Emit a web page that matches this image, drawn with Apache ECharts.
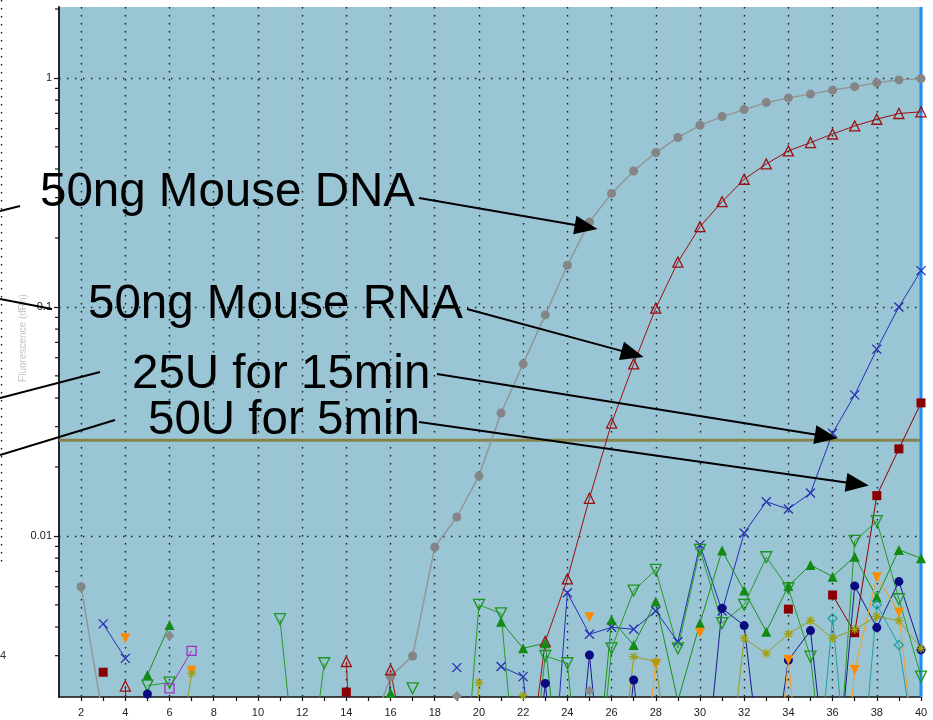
<!DOCTYPE html>
<html>
<head>
<meta charset="utf-8">
<title>Amplification plot</title>
<script src="https://cdn.jsdelivr.net/npm/echarts@6/dist/echarts.min.js"></script>
<style>
html, body { margin: 0; padding: 0; background: #fff; }
#chart { width: 933px; height: 720px; }
</style>
</head>
<body>
<div id="chart"></div>
<script>
const _ = null;

// cycle numbers on the x axis
const cycles = [2, 3, 4, 5, 6, 7, 8, 9, 10, 11, 12, 13, 14, 15, 16, 17, 18, 19, 20, 21,
  22, 23, 24, 25, 26, 27, 28, 29, 30, 31, 32, 33, 34, 35, 36, 37, 38, 39, 40];
const xTickLabels = [2, 4, 6, 8, 10, 12, 14, 16, 18, 20, 22, 24, 26, 28, 30, 32, 34, 36, 38, 40];
const yTickLabels = [0.01, 0.1, 1];
const yMinorTicks = [0.003, 0.004, 0.005, 0.006, 0.007, 0.008, 0.009,
  0.02, 0.03, 0.04, 0.05, 0.06, 0.07, 0.08, 0.09,
  0.2, 0.3, 0.4, 0.5, 0.6, 0.7, 0.8, 0.9, 2];
const threshold = 0.0262;
const lastCycle = 40;

// fluorescence per cycle, cycles 2..40 (null = no reading plotted)
const mouseDNA = [0.0060, 0.0016, 0.0015, 0.0015, 0.0014, 0.0014, 0.0014, 0.0014, 0.0014, 0.0014,
  0.0014, 0.0013, 0.0013, 0.0013, 0.00243, 0.00299, 0.00893, 0.0121, 0.0183, 0.0344,
  0.0564, 0.0923, 0.152, 0.235, 0.313, 0.392, 0.472, 0.549, 0.621, 0.678,
  0.727, 0.780, 0.818, 0.850, 0.885, 0.916, 0.952, 0.980, 0.993];
const mouseRNA = [_, _, 0.00221, 0.00001, _, _, _, _, _, _,
  _, _, 0.00283, 0.00002, 0.0026, 0.00078, _, _, _, _,
  0.0006, 0.00346, 0.00649, 0.0146, 0.0311, 0.0564, 0.0987, 0.157, 0.224, 0.288,
  0.361, 0.421, 0.480, 0.522, 0.569, 0.617, 0.660, 0.699, 0.711];
const u25min15 = [_, 0.00413, 0.00292, _, _, _, _, _, _, _,
  _, _, _, _, _, _, _, 0.00266, _, 0.00269,
  0.00243, 0.0003, 0.00565, 0.00372, 0.00399, 0.00391, 0.00470, 0.00345, 0.00914, 0.0047,
  0.0103, 0.0141, 0.0131, 0.0154, 0.0281, 0.0413, 0.0654, 0.100, 0.144];
const u50min5 = [_, 0.00254, _, _, _, _, _, _, _, _,
  _, _, 0.00208, _, _, _, _, _, _, _,
  _, _, _, _, _, _, _, _, _, _,
  _, _, 0.00479, _, 0.00552, 0.00378, 0.0150, 0.0240, 0.0381];
const greenSolid = [_, _, _, 0.00247, 0.00408, _, _, _, _, _,
  _, _, _, _, 0.00206, _, _, _, _, 0.00422,
  0.00323, 0.00340, 0.0004, 0.0004, 0.00430, 0.00334, 0.00517, 0.0019, 0.00416, 0.00863,
  0.00577, 0.00382, 0.00605, 0.00747, 0.00664, 0.00812, 0.00540, 0.00869, 0.00799];
const greenOpen = [_, _, _, 0.00222, 0.00229, _, _, _, _, 0.00433,
  0.0005, 0.00278, _, _, _, 0.00216, _, 0.0003, 0.00500, 0.00459,
  0.0004, 0.00299, 0.00278, 0.0003, 0.00323, 0.00577, 0.00711, 0.00323, 0.00869, 0.00416,
  0.00500, 0.00807, 0.00591, 0.00297, 0.0004, 0.00951, 0.0116, 0.00529, 0.00243];
const navyDots = [_, _, _, 0.00204, 0.0008, _, _, _, _, _,
  _, _, _, _, _, _, _, _, _, _,
  0.0003, 0.00227, 0.0003, 0.00302, 0.0003, 0.00235, 0.0003, _, 0.0005, 0.00483,
  0.00406, 0.0006, 0.00287, 0.00386, 0.0005, 0.00605, 0.00398, 0.00632, 0.00318];
const orangeDown = [_, _, 0.00357, _, _, 0.00258, _, _, _, _,
  _, _, _, _, _, _, _, _, _, _,
  _, _, _, 0.00442, _, 0.0004, 0.00276, _, 0.00378, _,
  _, 0.0003, 0.00287, 0.0003, 0.0002, 0.00260, 0.00660, 0.00463, 0.0006];
const oliveStars = [_, _, _, _, 0.0006, 0.00251, _, _, _, _,
  _, _, _, _, _, _, _, 0.00001, 0.00229, _,
  0.00201, _, _, _, 0.0004, 0.00297, 0.00283, 0.0005, _, 0.0005,
  0.00357, 0.00307, 0.00373, 0.00427, 0.00357, 0.00391, 0.00445, 0.00427, 0.00323];
const tealOpen = [_, _, _, _, _, _, _, _, _, _,
  _, _, _, _, _, _, _, _, _, _,
  _, _, _, _, _, _, _, _, _, _,
  _, _, _, 0.0004, 0.00437, 0.0004, 0.00500, 0.00334, 0.0008];
const purpleOpen = [_, _, _, _, 0.00216, 0.00315, _, _, _, _,
  _, _, _, _, _, _, _, _, _, _,
  _, _, _, _, _, _, _, _, _, _,
  _, _, _, _, _, _, _, _, _];
const grayDiamonds = [_, _, _, _, 0.00367, _, _, _, _, _,
  _, _, _, _, _, _, _, 0.00200, _, _,
  _, _, _, 0.00211, _, _, _, _, _, _,
  _, _, _, _, _, _, _, _, _];

const FONT = '"Liberation Sans", Arial, Helvetica, sans-serif';
const CROSS = 'path://M0,0L10,10M10,0L0,10';
const ASTERISK = 'path://M5,0L5,10M0,5L10,5M1.5,1.5L8.5,8.5M8.5,1.5L1.5,8.5';

// marker looks for each trace
const traces = [
  { name: '50ng Mouse DNA', values: mouseDNA, color: '#858585', line: '#939393', lineWidth: 1.4, symbol: 'circle', size: 9, filled: true },
  { name: '50ng Mouse RNA', values: mouseRNA, color: '#9a1010', line: '#9a1010', symbol: 'triangle', size: 10, filled: false },
  { name: '25U for 15min', values: u25min15, color: '#2630b0', line: '#2630b0', symbol: CROSS, size: 9, filled: false },
  { name: '50U for 5min', values: u50min5, color: '#8a0000', line: '#8a0000', symbol: 'rect', size: 9, filled: true },
  { name: 'green solid', values: greenSolid, color: '#138a13', line: '#1c8f1c', symbol: 'triangle', size: 10, filled: true },
  { name: 'green open', values: greenOpen, color: '#1d951d', line: '#2a9a2a', symbol: 'triangle', size: 11, filled: false, rotate: 180 },
  { name: 'navy', values: navyDots, color: '#0a0a80', line: '#1a1a88', symbol: 'circle', size: 9, filled: true },
  { name: 'orange', values: orangeDown, color: '#ff8a00', line: '#ff9a20', symbol: 'triangle', size: 10, filled: true, rotate: 180 },
  { name: 'olive', values: oliveStars, color: '#a0a010', line: '#9c9c22', symbol: ASTERISK, size: 9, filled: false },
  { name: 'teal', values: tealOpen, color: '#23a0a6', line: '#23a0a6', symbol: 'diamond', size: 9, filled: false },
  { name: 'purple', values: purpleOpen, color: '#a030c0', line: '#a030c0', symbol: 'rect', size: 9, filled: false },
  { name: 'gray', values: grayDiamonds, color: '#8a8a8a', line: '#8a8a8a', symbol: 'diamond', size: 10, filled: true }
];

const lineSeries = traces.map(t => ({
  type: 'line',
  name: t.name,
  data: cycles.map((c, i) => [c, t.values[i]]),
  xAxisIndex: 0,
  yAxisIndex: 0,
  clip: true,
  connectNulls: false,
  showSymbol: true,
  showAllSymbol: true,
  symbol: t.symbol,
  symbolSize: t.size,
  symbolRotate: t.rotate || 0,
  lineStyle: { color: t.line, width: t.lineWidth || 1 },
  itemStyle: t.filled
    ? { color: t.color, borderWidth: 0 }
    : { color: 'rgba(0,0,0,0)', borderColor: t.color, borderWidth: 1.3 },
  emphasis: { disabled: true },
  silent: true,
  z: 3
}));

const chart = echarts.init(document.getElementById('chart'), null, { renderer: 'canvas' });

const gridDots = { color: '#1a1a1a', width: 1.4, type: [1.4, 6.6] };

chart.setOption({
  animation: false,
  backgroundColor: '#ffffff',
  grid: {
    left: 59, right: 12, top: 7, bottom: 23,
    containLabel: false, outerBoundsMode: 'none',
    show: true, backgroundColor: '#99c5d5', borderWidth: 0
  },
  xAxis: [{
    type: 'value', min: 1, max: 40,
    axisLine: { show: true, onZero: false, lineStyle: { color: '#111', width: 1.5 } },
    axisTick: { show: true, length: 4, customValues: cycles, lineStyle: { color: '#111', width: 1.2 } },
    axisLabel: { customValues: xTickLabels, color: '#222', fontSize: 11, fontFamily: FONT, margin: 10 },
    splitLine: { show: false }
  }, {
    type: 'value', min: 1, max: 40, position: 'bottom',
    axisLine: { show: false },
    axisTick: { show: false, customValues: xTickLabels },
    axisLabel: { show: false },
    splitLine: { show: true, lineStyle: gridDots }
  }],
  yAxis: {
    type: 'log', logBase: 10, min: 0.00198, max: 2.04,
    axisLine: { show: true, onZero: false, lineStyle: { color: '#111', width: 1.8 } },
    axisTick: { show: true, length: 5, lineStyle: { color: '#111', width: 1.2 } },
    axisLabel: {
      showMinLabel: false, showMaxLabel: false,
      color: '#222', fontSize: 11, fontFamily: FONT, margin: 7,
      formatter: v => {
        const r = +Number(v).toPrecision(3);
        return yTickLabels.includes(r) ? String(r) : '';
      }
    },
    splitLine: { show: true, showMinLine: false, showMaxLine: false, lineStyle: gridDots }
  },
  series: lineSeries.concat([{
    // minor log ticks along the left axis
    type: 'custom',
    name: 'minor ticks',
    silent: true,
    clip: false,
    z: 6,
    data: yMinorTicks.map(v => [1, v]),
    renderItem: (params, api) => {
      const p = api.coord([api.value(0), api.value(1)]);
      return {
        type: 'line',
        shape: { x1: p[0] - 4, y1: p[1], x2: p[0], y2: p[1] },
        style: { stroke: '#111', lineWidth: 1.2 }
      };
    }
  }, {
    // threshold line and the cursor line at the last cycle
    type: 'custom',
    name: 'guides',
    silent: true,
    clip: false,
    z: 2,
    data: [[lastCycle, threshold]],
    renderItem: (params, api) => {
      const cs = params.coordSys;
      const p = api.coord([api.value(0), api.value(1)]);
      return {
        type: 'group',
        children: [
          { type: 'line', shape: { x1: cs.x, y1: p[1], x2: p[0], y2: p[1] }, style: { stroke: '#86834e', lineWidth: 3 } },
          { type: 'line', shape: { x1: p[0], y1: cs.y, x2: p[0], y2: cs.y + cs.height }, style: { stroke: '#1c8cff', lineWidth: 3 } }
        ]
      };
    }
  }])
});

// callouts: text block, where its arrow starts, and which reading it points at
const callouts = [
  { text: '50ng Mouse DNA', x: 40, y: 193, from: [419, 198], trace: 0, cycle: 25, off: [8, 7] },
  { text: '50ng Mouse RNA', x: 88, y: 305, from: [467, 309], trace: 1, cycle: 27, off: [10, -7] },
  { text: '25U for 15min', x: 132, y: 375, from: [437, 374], trace: 2, cycle: 36, off: [5, 5] },
  { text: '50U for 5min', x: 148, y: 421, from: [419, 422], trace: 3, cycle: 38, off: [-8, -10] }
];

const graphics = [];
callouts.forEach(c => {
  const value = traces[c.trace].values[cycles.indexOf(c.cycle)];
  const p = chart.convertToPixel({ seriesIndex: c.trace }, [c.cycle, value]);
  const tip = [p[0] + c.off[0], p[1] + c.off[1]];
  const dx = tip[0] - c.from[0], dy = tip[1] - c.from[1];
  const len = Math.hypot(dx, dy);
  const ux = dx / len, uy = dy / len;
  const headLen = 23, headHalf = 9.5;
  const base = [tip[0] - ux * headLen, tip[1] - uy * headLen];
  graphics.push({
    type: 'text', x: c.x, y: c.y, z: 100,
    style: { text: c.text, font: '47.5px ' + FONT, fill: '#000', align: 'left', verticalAlign: 'middle', textAlign: 'left', textVerticalAlign: 'middle' }
  });
  graphics.push({
    type: 'line', z: 100,
    shape: { x1: c.from[0], y1: c.from[1], x2: base[0] + ux * 2, y2: base[1] + uy * 2 },
    style: { stroke: '#000', lineWidth: 2 }
  });
  graphics.push({
    type: 'polygon', z: 100,
    shape: { points: [tip, [base[0] - uy * headHalf, base[1] + ux * headHalf], [base[0] + uy * headHalf, base[1] - ux * headHalf]] },
    style: { fill: '#000' }
  });
});

// pieces of the neighbouring panel at the left margin
[[[0, 211], [20, 206]], [[0, 299], [52, 309]], [[0, 398], [100, 372]], [[0, 455], [115, 420]]].forEach(s => {
  graphics.push({
    type: 'line', z: 100,
    shape: { x1: s[0][0], y1: s[0][1], x2: s[1][0], y2: s[1][1] },
    style: { stroke: '#000', lineWidth: 2 }
  });
});
graphics.push({
  type: 'line', z: 90,
  shape: { x1: 1.5, y1: 0, x2: 1.5, y2: 566 },
  style: { stroke: '#222', lineWidth: 1.4, lineDash: [1.4, 6.6] }
});
graphics.push({
  type: 'text', x: 23, y: 338, rotation: Math.PI / 2, z: 90,
  style: { text: 'Fluorescence (dRn)', font: '10px ' + FONT, fill: '#c4c4c4', align: 'center', verticalAlign: 'middle', textAlign: 'center', textVerticalAlign: 'middle' }
});
graphics.push({
  type: 'text', x: 0, y: 656, z: 90,
  style: { text: '4', font: '11px ' + FONT, fill: '#333', align: 'left', verticalAlign: 'middle', textAlign: 'left', textVerticalAlign: 'middle' }
});

chart.setOption({ graphic: { elements: graphics } });
</script>
</body>
</html>
